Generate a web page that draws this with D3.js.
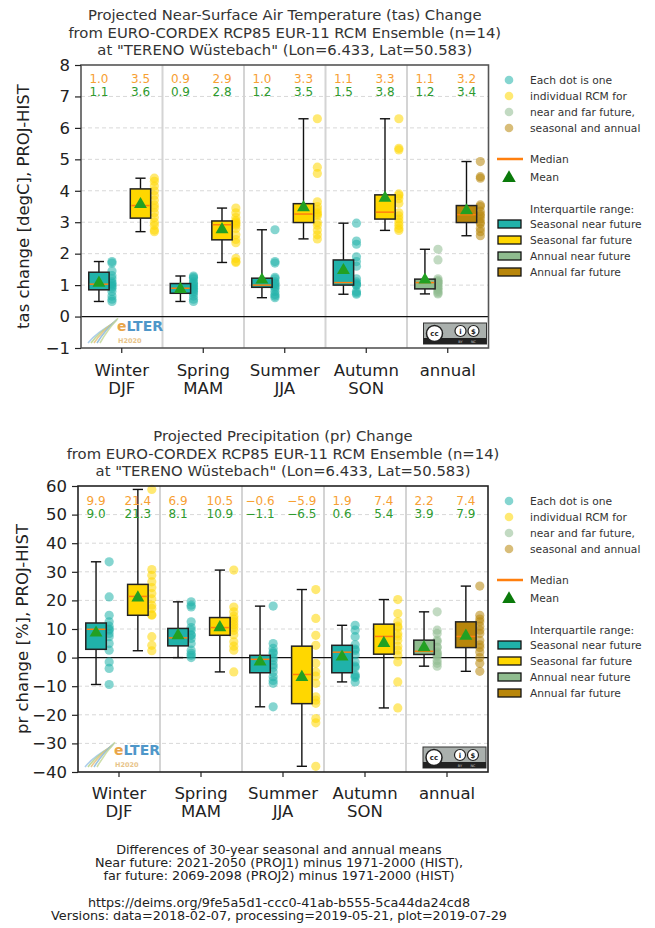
<!DOCTYPE html>
<html><head><meta charset="utf-8">
<script src="https://cdn.jsdelivr.net/npm/d3@7"></script>
<style>body{margin:0;background:#fff} text{font-family:"DejaVu Sans",sans-serif;fill:#222}</style>
</head><body><svg id="c" width="655" height="928"></svg>
<script>
// ---------- DATA ----------
const categories = ["Winter","Spring","Summer","Autumn","annual"];
const categories2 = ["DJF","MAM","JJA","SON",""];

// Temperature (tas) change [degC]
const tasTicks = [-1,0,1,2,3,4,5,6,7,8];
const tasNearLow    = [0.48,0.48,0.60,0.71,0.72];
const tasNearQ1     = [0.85,0.74,0.93,1.00,0.88];
const tasNearMedian = [1.03,0.90,1.00,1.08,1.08];
const tasNearQ3     = [1.41,1.05,1.22,1.80,1.19];
const tasNearHigh   = [1.75,1.29,2.76,2.97,2.14];
const tasNearMean   = [1.1,0.9,1.2,1.5,1.2];
const tasFarLow     = [2.70,1.72,2.47,2.74,2.57];
const tasFarQ1      = [3.13,2.44,2.99,3.10,2.99];
const tasFarMedian  = [3.53,2.92,3.26,3.32,3.24];
const tasFarQ3      = [4.06,3.04,3.59,3.87,3.53];
const tasFarHigh    = [4.40,3.45,6.29,6.29,4.93];
const tasFarMean    = [3.6,2.8,3.5,3.8,3.4];
const tasNearDots = [
  [1.75,1.70,1.45,1.30,1.20,1.10,1.05,1.00,0.95,0.90,0.80,0.65,0.55,0.48],
  [1.29,1.25,1.20,1.10,1.05,1.00,0.95,0.90,0.85,0.80,0.75,0.65,0.55,0.48],
  [2.76,1.75,1.70,1.25,1.20,1.10,1.05,1.00,0.95,0.90,0.80,0.70,0.65,0.60],
  [2.97,2.40,2.30,1.90,1.75,1.60,1.20,1.10,1.05,1.00,1.00,0.80,0.75,0.71],
  [2.14,1.80,1.20,1.15,1.10,1.10,1.05,1.00,0.95,0.90,0.85,0.80,0.75,0.72]];
const tasFarDots = [
  [4.40,4.30,4.15,4.00,3.85,3.70,3.55,3.45,3.30,3.15,3.00,2.90,2.75,2.70],
  [3.45,3.30,3.15,3.05,3.00,2.95,2.90,2.80,2.60,2.45,2.35,1.85,1.75,1.72],
  [6.29,4.75,4.55,3.65,3.50,3.40,3.30,3.25,3.20,3.00,2.90,2.75,2.60,2.47],
  [6.29,5.35,5.30,3.90,3.85,3.75,3.60,3.30,3.20,3.10,3.00,2.90,2.80,2.74],
  [4.93,4.45,4.40,3.55,3.50,3.35,3.25,3.20,3.10,3.00,2.95,2.80,2.70,2.57]];

// Precipitation (pr) change [%]
const prTicks = [-40,-30,-20,-10,0,10,20,30,40,50,60];
const prNearLow    = [-9.4,0.0,-17.2,-8.5,-3.0];
const prNearQ1     = [2.9,4.1,-5.3,-5.3,1.1];
const prNearMedian = [9.9,6.9,-0.6,1.9,2.2];
const prNearQ3     = [12.1,10.2,0.8,4.3,6.1];
const prNearHigh   = [33.5,19.5,18.0,11.3,16.0];
const prNearMean   = [9.0,8.1,-1.1,0.6,3.9];
const prFarLow     = [2.4,-5.0,-38.0,-17.6,-4.8];
const prFarQ1      = [14.8,7.8,-16.1,1.2,3.5];
const prFarMedian  = [21.4,10.5,-5.9,7.4,7.4];
const prFarQ3      = [25.6,14.0,4.0,11.7,12.5];
const prFarHigh    = [58.8,30.6,23.8,20.3,25.0];
const prFarMean    = [21.3,10.9,-6.5,5.4,7.9];
const prNearDots = [
  [33.5,21.2,14.8,12.5,11.0,10.0,9.6,8.4,7.3,4.9,2.6,-1.5,-3.8,-9.4],
  [19.5,18.3,17.7,12.5,10.5,9.6,8.0,7.8,6.7,4.9,2.6,1.5,0.8,0.0],
  [18.0,4.9,3.2,2.0,1.5,0.0,-1.0,-2.5,-3.5,-5.0,-6.7,-8.0,-9.0,-17.2],
  [11.3,9.6,7.3,4.5,3.0,2.5,1.0,-1.5,-3.0,-3.5,-6.0,-6.5,-7.0,-8.5],
  [16.0,9.6,8.4,6.1,5.5,3.7,3.5,2.0,1.5,1.0,0.5,-1.0,-2.0,-3.0]];
const prFarDots = [
  [58.8,30.8,28.8,26.5,24.5,22.4,20.5,18.3,17.2,15.0,14.8,7.3,4.3,2.4],
  [30.6,17.7,16.0,14.5,13.5,12.5,11.5,10.5,9.5,8.0,5.5,4.0,2.6,-5.0],
  [23.8,13.7,7.8,4.3,-2.0,-5.0,-6.5,-9.0,-13.7,-14.9,-16.0,-21.3,-22.8,-38.0],
  [20.3,15.4,12.5,11.0,10.5,8.4,7.5,6.1,4.0,2.6,0.8,-1.5,-8.5,-17.6],
  [25.0,14.8,13.5,12.5,11.0,9.6,8.4,6.0,4.5,3.5,2.0,0.0,-2.0,-4.8]];

const tasTitle = ["Projected Near-Surface Air Temperature (tas) Change",
  "from EURO-CORDEX RCP85 EUR-11 RCM Ensemble (n=14)",
  "at \"TERENO Wüstebach\" (Lon=6.433, Lat=50.583)"];
const prTitle = ["Projected Precipitation (pr) Change",
  "from EURO-CORDEX RCP85 EUR-11 RCM Ensemble (n=14)",
  "at \"TERENO Wüstebach\" (Lon=6.433, Lat=50.583)"];
const footer = ["Differences of 30-year seasonal and annual means",
  "Near future: 2021-2050 (PROJ1) minus 1971-2000 (HIST),",
  "far future: 2069-2098 (PROJ2) minus 1971-2000 (HIST)",
  "",
  "https://deims.org/9fe5a5d1-ccc0-41ab-b555-5ca44da24cd8",
  "Versions: data=2018-02-07, processing=2019-05-21, plot=2019-07-29"];
const legendDotText = ["Each dot is one","individual RCM for","near and far future,","seasonal and annual"];
const legendBoxText = ["Seasonal near future","Seasonal far future","Annual near future","Annual far future"];

// ---------- STYLE ----------
const colNear = "#20b2aa", colFar = "#ffd700", colANear = "#8fbc8f", colAFar = "#b8860b";
const legendColors = [colNear, colFar, colANear, colAFar];
const medianCol = "#ff7f0e", meanCol = "#22a022";
const lblOrange = "#f7a033", lblGreen = "#2e9a2e";
const fmt = d3.format(".1f");
const minus = s => s.replace("-", "\u2212");
const AX = 16.5; // axis font size

const svg = d3.select("#c");

function drawPanel(cfg) {
  const {left,right,top,bottom,domain,ticks,ylabel,title,titleY,d,ann,xlabY,ylabX} = cfg;
  const g = svg.append("g");
  const y = d3.scaleLinear().domain(domain).range([bottom, top]);
  const xg = d3.scaleBand().domain(categories).range([left, right]).padding(0);
  const xo = d3.scaleLinear().domain([0,1]).range([0, xg.bandwidth()]);
  const bw = xo(0.25);
  const cx = (i, f) => xg(categories[i]) + xo(f);

  // title
  title.forEach((t,k) => g.append("text").attr("x",(left+right)/2).attr("y",titleY[k])
    .attr("text-anchor","middle").attr("font-size",14.8).style("fill","#333").text(t));

  // grid
  g.selectAll(".grid").data(ticks.filter(t => t!==0 && t!==domain[0] && t!==domain[1])).join("line")
    .attr("x1",left).attr("x2",right).attr("y1",d=>y(d)).attr("y2",d=>y(d))
    .attr("stroke","#d8d8d8").attr("stroke-dasharray","4,3").attr("stroke-width",1);
  // separators
  categories.slice(1).forEach(c => g.append("line").attr("x1",xg(c)).attr("x2",xg(c))
    .attr("y1",top).attr("y2",bottom).attr("stroke","#d4d4d4").attr("stroke-width",2));
  // zero line
  g.append("line").attr("x1",left).attr("x2",right).attr("y1",y(0)).attr("y2",y(0))
    .attr("stroke","#111").attr("stroke-width",1.3);

  // logos
  drawELTER(g, left+7, bottom-5);
  drawCC(g, right-65, bottom-25);

  // boxes
  const series = [
    {f:0.22, df:0.38, low:d.nl, q1:d.nq1, med:d.nmed, q3:d.nq3, high:d.nh, mean:d.nmean, dots:d.nd, col:i=>i===4?colANear:colNear},
    {f:0.73, df:0.90, low:d.fl, q1:d.fq1, med:d.fmed, q3:d.fq3, high:d.fh, mean:d.fmean, dots:d.fd, col:i=>i===4?colAFar:colFar}];
  series.forEach(s => {
    categories.forEach((c,i) => {
      const x = cx(i, s.f);
      g.selectAll(null).data(s.dots[i]).join("circle")
        .attr("cx", cx(i, s.df)).attr("cy", v => y(v)).attr("r", 4.6)
        .attr("fill", s.col(i)).attr("fill-opacity", 0.55);
      g.append("line").attr("x1",x).attr("x2",x).attr("y1",y(s.high[i])).attr("y2",y(s.q3[i])).attr("stroke","#111").attr("stroke-width",1.4);
      g.append("line").attr("x1",x).attr("x2",x).attr("y1",y(s.q1[i])).attr("y2",y(s.low[i])).attr("stroke","#111").attr("stroke-width",1.4);
      [s.high[i], s.low[i]].forEach(v => g.append("line").attr("x1",x-bw/4).attr("x2",x+bw/4)
        .attr("y1",y(v)).attr("y2",y(v)).attr("stroke","#111").attr("stroke-width",1.4));
      g.append("rect").attr("x",x-bw/2).attr("width",bw).attr("y",y(s.q3[i]))
        .attr("height",y(s.q1[i])-y(s.q3[i])).attr("fill",s.col(i)).attr("stroke","#222").attr("stroke-width",1.5);
      g.append("line").attr("x1",x-bw/2+1).attr("x2",x+bw/2-1).attr("y1",y(s.med[i])).attr("y2",y(s.med[i]))
        .attr("stroke",medianCol).attr("stroke-width",1.5);
      g.append("path").attr("d", d3.symbol(d3.symbolTriangle, 72)())
        .attr("transform",`translate(${x},${y(s.mean[i])+1})`).attr("fill",meanCol);
      g.append("text").attr("x",x).attr("y",ann[0]).attr("text-anchor","middle").attr("font-size",12)
        .style("fill",lblOrange).text(minus(fmt(s.med[i])));
      g.append("text").attr("x",x).attr("y",ann[1]).attr("text-anchor","middle").attr("font-size",12)
        .style("fill",lblGreen).text(minus(fmt(s.mean[i])));
    });
  });

  // frame
  g.append("rect").attr("x",left).attr("y",top).attr("width",right-left).attr("height",bottom-top)
    .attr("fill","none").attr("stroke",cfg.frame).attr("stroke-width",1.6);

  // y axis
  const ya = d3.axisLeft(y).tickValues(ticks).tickSize(6).tickPadding(5).tickFormat(v => minus(String(v)));
  const yg = g.append("g").attr("transform",`translate(${left},0)`).call(ya);
  yg.select(".domain").remove();
  yg.selectAll("text").attr("font-size",AX).style("fill","#222").attr("font-family","DejaVu Sans");
  yg.selectAll("line").attr("stroke","#222").attr("stroke-width",1.2);

  // x axis ticks + two-line labels
  const xa = d3.axisBottom(xg).tickSize(5).tickFormat("");
  const xgG = g.append("g").attr("transform",`translate(0,${bottom})`).call(xa);
  xgG.select(".domain").remove();
  xgG.selectAll("line").attr("stroke","#222").attr("stroke-width",1.2);
  categories.forEach((c,i) => {
    const xx = xg(c) + xg.bandwidth()/2;
    g.append("text").attr("x",xx).attr("y",xlabY[0]).attr("text-anchor","middle").attr("font-size",AX).text(c);
    if (categories2[i]) g.append("text").attr("x",xx).attr("y",xlabY[1]).attr("text-anchor","middle").attr("font-size",AX).text(categories2[i]);
  });

  // y label
  g.append("text").attr("transform",`translate(${ylabX},${(top+bottom)/2}) rotate(-90)`)
    .attr("text-anchor","middle").attr("font-size",AX).text(ylabel);

  // legend
  const lx = 509, tx = 530, LF = 10.7;
  legendDotText.forEach((t,k) => {
    const yy = top + 15 + k*16;
    g.append("circle").attr("cx",lx).attr("cy",yy).attr("r",4.3).attr("fill",legendColors[k]).attr("fill-opacity",0.55);
    g.append("text").attr("x",tx).attr("y",yy+4).attr("font-size",LF).style("fill","#333").text(t);
  });
  g.append("line").attr("x1",497).attr("x2",523).attr("y1",top+94).attr("y2",top+94).attr("stroke",medianCol).attr("stroke-width",2.5);
  g.append("text").attr("x",tx).attr("y",top+98).attr("font-size",LF).style("fill","#333").text("Median");
  g.append("path").attr("d", d3.symbol(d3.symbolTriangle, 80)()).attr("transform",`translate(${lx},${top+113})`).attr("fill","#0a7a0a");
  g.append("text").attr("x",tx).attr("y",top+116).attr("font-size",LF).style("fill","#333").text("Mean");
  g.append("text").attr("x",tx).attr("y",top+148).attr("font-size",LF).style("fill","#333").text("Interquartile range:");
  legendBoxText.forEach((t,k) => {
    const yy = top + 159 + k*16;
    g.append("rect").attr("x",498).attr("y",yy-4).attr("width",23).attr("height",8)
      .attr("fill",legendColors[k]).attr("stroke","#111").attr("stroke-width",1.3);
    g.append("text").attr("x",tx).attr("y",yy+4).attr("font-size",LF).style("fill","#333").text(t);
  });
}

function drawELTER(g, x, yb) {
  const lg = g.append("g").attr("transform",`translate(${x},${yb})`);
  const cols = ["#9fc6e6","#b8d48a","#e6c07a","#8bb8d8","#c4d89a"];
  cols.forEach((c,k) => lg.append("path")
    .attr("d",`M${k*3},0 Q${8+k*3},${-10-k} ${26+k},${-20-k*1.2}`)
    .attr("fill","none").attr("stroke",c).attr("stroke-width",1.6).attr("opacity",0.85));
  lg.append("text").attr("x",29).attr("y",-12).attr("font-size",14).attr("font-weight","bold")
    .style("fill","#e9a548").text("e")
    .append("tspan").style("fill","#4f97c9").text("LTER");
  lg.append("text").attr("x",30).attr("y",0).attr("font-size",6.5).attr("font-weight","bold").style("fill","#e8c48a").text("H2020");
}

function drawCC(g, x, y) {
  const cg = g.append("g").attr("transform",`translate(${x},${y})`);
  cg.append("rect").attr("width",63).attr("height",21).attr("fill","#aab0ad").attr("stroke","#333").attr("stroke-width",1);
  cg.append("rect").attr("y",15).attr("width",63).attr("height",6).attr("fill","#222");
  cg.append("circle").attr("cx",11).attr("cy",10.5).attr("r",8).attr("fill","#fff").attr("stroke","#222").attr("stroke-width",1.5);
  cg.append("text").attr("x",11).attr("y",13).attr("text-anchor","middle").attr("font-size",7).attr("font-weight","bold").text("cc");
  [37,50].forEach(cx => cg.append("circle").attr("cx",cx).attr("cy",8).attr("r",5.5).attr("fill","#fff").attr("stroke","#222").attr("stroke-width",1.2));
  cg.append("text").attr("x",37).attr("y",11).attr("text-anchor","middle").attr("font-size",7).attr("font-weight","bold").text("i");
  cg.append("text").attr("x",50).attr("y",11).attr("text-anchor","middle").attr("font-size",7).attr("font-weight","bold").text("$");
  cg.append("text").attr("x",37).attr("y",20).attr("text-anchor","middle").attr("font-size",3.5).style("fill","#ccc").text("BY");
  cg.append("text").attr("x",50).attr("y",20).attr("text-anchor","middle").attr("font-size",3.5).style("fill","#ccc").text("NC");
}

drawPanel({left:81,right:488.5,top:65,bottom:348,domain:[-1,8],ticks:tasTicks,
  ylabel:"tas change [degC], PROJ-HIST",title:tasTitle,titleY:[20,37.5,54.5],frame:"#555",
  ann:[83,95.5],xlabY:[376,394.3],ylabX:29,
  d:{nl:tasNearLow,nq1:tasNearQ1,nmed:tasNearMedian,nq3:tasNearQ3,nh:tasNearHigh,nmean:tasNearMean,nd:tasNearDots,
     fl:tasFarLow,fq1:tasFarQ1,fmed:tasFarMedian,fq3:tasFarQ3,fh:tasFarHigh,fmean:tasFarMean,fd:tasFarDots}});

drawPanel({left:78,right:488,top:486,bottom:772,domain:[-40,60],ticks:prTicks,
  ylabel:"pr change [%], PROJ-HIST",title:prTitle,titleY:[441,458.5,476],frame:"#222",
  ann:[504.5,517.5],xlabY:[798.7,816.7],ylabX:28,
  d:{nl:prNearLow,nq1:prNearQ1,nmed:prNearMedian,nq3:prNearQ3,nh:prNearHigh,nmean:prNearMean,nd:prNearDots,
     fl:prFarLow,fq1:prFarQ1,fmed:prFarMedian,fq3:prFarQ3,fh:prFarHigh,fmean:prFarMean,fd:prFarDots}});

footer.forEach((t,k) => { if (t) svg.append("text").attr("x",279).attr("y",853.5 + k*13.3)
  .attr("text-anchor","middle").attr("font-size",12.8).style("fill","#222").text(t); });
</script></body></html>
